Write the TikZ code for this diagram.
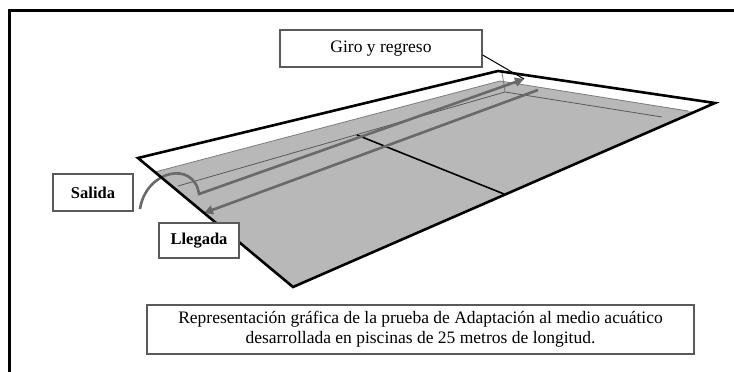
\documentclass[tikz,border=0pt]{standalone}
\usepackage{fontspec}
\setmainfont{Liberation Serif}
\usetikzlibrary{arrows.meta}
\definecolor{poolgray}{RGB}{184,184,184}
\definecolor{pathgray}{RGB}{105,105,105}
\definecolor{thingray}{RGB}{125,125,125}
\definecolor{boxgray}{RGB}{90,90,90}
\tikzset{
  labelbox/.style={draw=boxgray, line width=1.2pt, fill=white, inner sep=0pt, align=center, font=\fontsize{17.5}{20}\selectfont},
  pooledge/.style={line width=2.6pt, line join=miter, black},
  swimpath/.style={draw=pathgray, line width=2.6pt},
  thinline/.style={draw=thingray, line width=0.8pt},
  tip/.style={-{Triangle[length=9pt,width=9pt]}}
}
\begin{document}
\begin{tikzpicture}[x=1pt,y=-1pt]
\useasboundingbox (0,0) rectangle (734,372);
\fill[white] (0,0) rectangle (734,372);
% frame
\draw[line width=3pt] (9,372) -- (9,10) -- (734,10);
% pool corners
\coordinate (A) at (138,158);
\coordinate (B) at (498,71);
\coordinate (C) at (715,103);
\coordinate (D) at (293,287);
% water
\coordinate (G1) at (155,172);
\coordinate (G2) at (500,81);
\coordinate (G3) at (696,112);
\fill[poolgray] (G1) -- (G2) -- (G3) -- (D) -- cycle;
% deck edge and wall base lines
\draw[thinline] (G1) -- (G2) -- (688,111);
\coordinate (W1) at (178,186);
\coordinate (W2) at (505,92);
\coordinate (W3) at (662,117);
\draw[thinline, draw=gray!70!black] (W1) -- (W2) -- (W3);
\draw[thinline] (502,72) -- (W2);
% half-length divider
\coordinate (M1) at (357,135);
\coordinate (M2) at (504,194);
\draw[line width=1.6pt] (M1) -- (M2);
% swim path
\coordinate (S0) at (140,209);
\coordinate (S1) at (199,194);
\coordinate (T1) at (524,79);
\coordinate (R0) at (538,90);
\coordinate (R1) at (204,213);
\draw[swimpath, tip] (S0) .. controls (146,170) and (194,160) .. (S1) -- (T1);
\draw[swimpath, tip] (R0) -- (R1);
% pool outline
\draw[pooledge] (A) -- (B) -- (C) -- (D) -- cycle;
% labels
\node[labelbox, minimum width=202pt, minimum height=37pt] (giro) at (381,48.5) {Giro y regreso};
\draw[line width=1pt] (giro.east |- 0,55) -- (T1);
\node[labelbox, minimum width=80pt, minimum height=37pt, font=\fontsize{16.5}{20}\selectfont\bfseries] (salida) at (93,192.5) {Salida};
\node[labelbox, minimum width=80pt, minimum height=35pt, font=\fontsize{16.5}{20}\selectfont\bfseries] (llegada) at (199,240.5) {Llegada};
\node[labelbox, minimum width=547pt, minimum height=49pt] (caption) at (420.5,329.5)
  {Representación gráfica de la prueba de Adaptación al medio acuático\\desarrollada en piscinas de 25 metros de longitud.};
\end{tikzpicture}
\end{document}
